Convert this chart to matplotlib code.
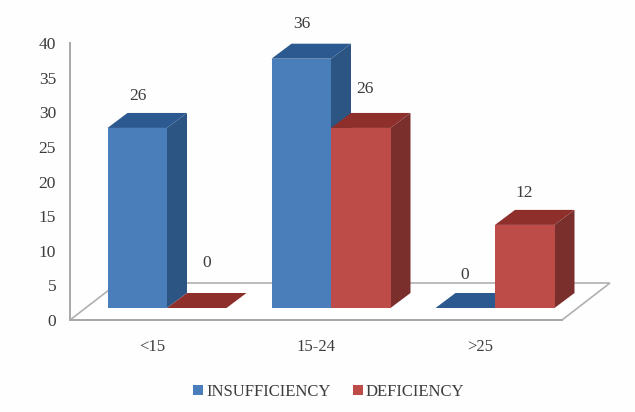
import matplotlib
matplotlib.use("Agg")
import matplotlib.pyplot as plt
from matplotlib.patches import Polygon, Patch

categories = ["<15", "15-24", ">25"]
insufficiency = [26, 36, 0]
deficiency = [0, 26, 12]
yticks = [0, 5, 10, 15, 20, 25, 30, 35, 40]

W, H = 635, 412
plt.rcParams["font.family"] = ["Liberation Serif", "DejaVu Serif"]
TXT = "#3c3c3c"
fig = plt.figure(figsize=(W / 100, H / 100), dpi=100, facecolor="#fefefe")
L, R, T, B = 70, 562, 43, 320
ax = fig.add_axes([L / W, 1 - B / H, (R - L) / W, (B - T) / H])
ax.set_xlim(-0.5, 2.5)
ax.set_ylim(0, 40)
ax.patch.set_alpha(0)

px = 3 / (R - L)          # data x units per pixel
py = 40 / (B - T)         # data y units per pixel


def X(p):
    return p * px


def Y(p):
    return p * py


# floor
floor = Polygon([(-0.5, 0), (2.5, 0), (2.5 + X(48), Y(37)), (-0.5 + X(48), Y(37))],
                closed=True, fc="white", ec="#b0b0b0", lw=1.2, clip_on=False, zorder=1)
ax.add_patch(floor)

ax.spines[["top", "right"]].set_visible(False)
for s in ["left", "bottom"]:
    ax.spines[s].set_color("#a8a8a8")
    ax.spines[s].set_linewidth(1.4)
ax.set_xticks(range(3), categories)
ax.set_yticks(yticks)
ax.tick_params(length=0, labelsize=12.5, labelcolor=TXT)
ax.tick_params(axis="x", pad=14, labelsize=12)
ax.tick_params(axis="y", pad=10)

bar_w = X(59.5)
sx, sy = X(15), Y(12)     # bars stand inside the floor
dx, dy = X(20), Y(15)     # bar depth

styles = [
    ("INSUFFICIENCY", insufficiency, -1, "#4a7ebb", "#2d5583", "#2c5a90"),
    ("DEFICIENCY", deficiency, 0, "#bd4b48", "#7b2f2d", "#8e2f2c"),
]
z = 3
for i in range(3):
    for name, vals, side, front, sidec, topc in styles:
        v = vals[i]
        x0 = i + sx + side * bar_w
        x1 = x0 + bar_w
        b0 = sy
        t0 = sy + v
        ax.bar(x0, v, width=bar_w, bottom=b0, align="edge", color=front, zorder=z + 1,
               clip_on=False)
        ax.add_patch(Polygon([(x0, t0), (x1, t0), (x1 + dx, t0 + dy), (x0 + dx, t0 + dy)],
                             closed=True, fc=topc, ec="none", zorder=z, clip_on=False))
        if v > 0:
            ax.add_patch(Polygon([(x1, b0), (x1 + dx, b0 + dy), (x1 + dx, t0 + dy), (x1, t0)],
                                 closed=True, fc=sidec, ec="none", zorder=z, clip_on=False))
        z += 2

# value labels: pixel offsets from the centre of the bar's top edge
offsets = {"INSUFFICIENCY": [(1, 32), (1, 35), (-1, 33)],
           "DEFICIENCY": [(10, 45), (4, 39), (-1, 32)]}
for name, vals, side, *_ in styles:
    for i, v in enumerate(vals):
        xc = i + sx + side * bar_w + bar_w / 2
        ox, oy = offsets[name][i]
        ax.annotate(str(v), (xc, sy + v), xytext=(ox * 0.72, oy * 0.72),
                    textcoords="offset points", ha="center", va="center",
                    fontsize=12.5, color=TXT, annotation_clip=False, zorder=50)

handles = [Patch(fc=s[3], ec="none", label=s[0]) for s in styles]
fig.legend(handles=handles, loc="center", bbox_to_anchor=(329 / W, 1 - 392 / H), ncol=2,
           frameon=False, fontsize=12, labelcolor=TXT, handlelength=0.6, handleheight=0.6,
           handletextpad=0.15, columnspacing=1.38)

fig.savefig("out.png", dpi=100, facecolor=fig.get_facecolor())
